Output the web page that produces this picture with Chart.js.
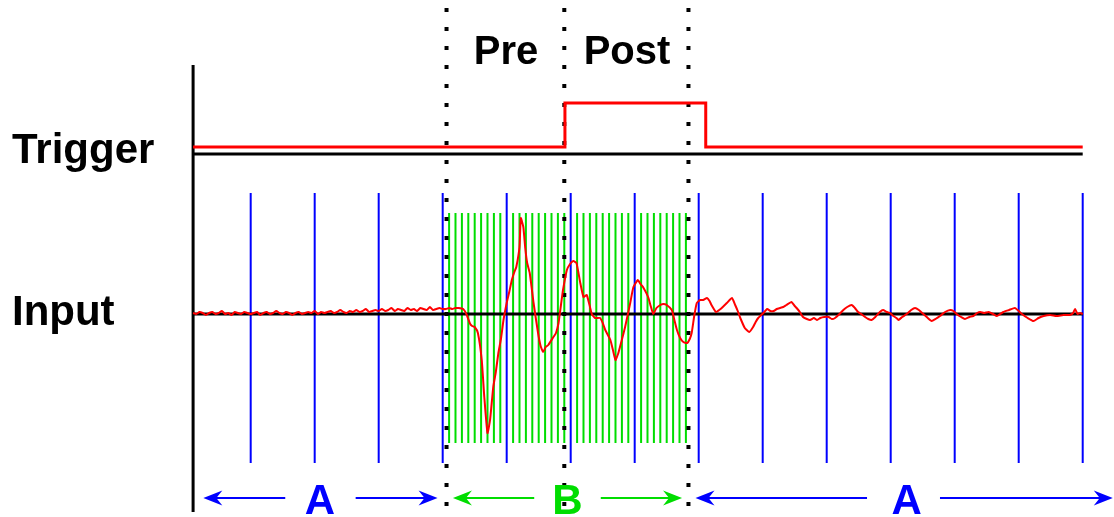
<!DOCTYPE html>
<html>
<head>
<meta charset="utf-8">
<script src="https://cdn.jsdelivr.net/npm/chart.js@4.4.0/dist/chart.umd.min.js"></script>
<style>
  html, body { margin: 0; padding: 0; background: #ffffff; }
  #wrap { width: 1114px; height: 517px; }
</style>
</head>
<body>
<div id="wrap"><canvas id="c" width="1114" height="517"></canvas></div>
<script>
// ---- Data (time in sample units: blue = every 10, green = every 1) ----
const blueTimes = [10, 20, 30, 40, 50, 60, 70, 80, 90, 100, 110, 120, 130, 140];
const greenTimes = [41,42,43,44,45,46,47,48,49, 51,52,53,54,55,56,57,58,59, 61,62,63,64,65,66,67,68,69, 71,72,73,74,75,76,77,78];
const dottedTimes = [40.6, 59.0, 78.4];

const traceStart = 1, traceEnd = 140;
const triggerLow = 1.67, triggerHigh = 2.11, triggerBase = 1.60;
const triggerOn = 59.1, triggerOff = 81.1;

// flat, noisy pre-event input (t = 1 .. 40, step 0.5)
const flatNoise = [0.01,0.00,0.02,0.01,-0.01,0.01,0.02,0.00,0.01,0.03,0.00,0.01,-0.01,0.02,0.01,0.00,0.02,0.01,0.00,0.01,
  0.02,-0.01,0.01,0.02,0.00,0.01,0.03,0.01,0.00,0.02,0.01,-0.01,0.01,0.02,0.00,0.01,0.02,0.01,0.03,0.00,
  0.02,0.01,0.02,0.03,0.01,0.02,0.04,0.02,0.01,0.03,0.02,0.04,0.02,0.03,0.05,0.02,0.03,0.04,0.03,0.05,
  0.03,0.04,0.06,0.03,0.05,0.04,0.03,0.06,0.04,0.05,0.03,0.06,0.05,0.04,0.07,0.04,0.05,0.06,0.05];

// event + ringing
const waveT = [40.5,41,41.5,42,42.5,43.2,43.7,44.3,44.6,45.0,45.5,46.1,46.5,47.0,47.4,47.9,48.3,48.7,49.1,49.5,
  50.0,50.4,50.8,51.2,51.5,52.0,52.2,52.6,52.9,53.2,53.6,54.2,54.9,55.3,55.7,56.1,56.5,57.3,57.7,58.1,
  58.5,58.8,59.4,59.9,60.4,60.9,61.5,62.0,62.5,62.9,63.3,63.8,64.6,65.0,65.4,66.2,66.6,67.0,67.4,67.7,
  68.5,69.3,69.8,70.5,70.9,71.3,72.1,72.5,72.9,73.4,74.0,74.5,75.0,75.8,76.2,76.6,77.1,77.6,78.2,78.6,
  78.9,79.3,79.7,80.2,80.7,81.3,81.7,82.0,82.7,83.2,83.6,84.4,85.2,85.7,86.1,86.5,87.2,87.9,88.5,88.9,
  89.3,90.1,90.7,91.2,91.7,92.2,92.7,93.2,93.7,94.5,95.0,95.3,95.8,96.3,96.9,97.4,98.0,98.5,99.0,99.6,
  100.3,100.8,101.3,102.0,102.6,103.2,103.9,104.4,104.9,105.4,106.0,106.5,107.0,107.6,108.3,108.8,109.4,109.9,110.4,110.9,
  111.2,111.8,112.5,113.2,113.8,114.4,115.1,115.8,116.4,117.0,117.7,118.5,119.3,119.8,120.3,121.0,121.6,122.3,122.9,123.5,
  124.0,124.6,125.3,126.0,126.6,127.1,127.6,128.5,129.4,130.0,130.5,131.4,132.3,133.1,133.9,134.9,135.9,137.0,138.0,138.5,
  138.8,139.2,139.6,140];
const waveV = [0.05,0.06,0.05,0.06,0.06,0.05,0.0,-0.10,-0.12,-0.13,-0.19,-0.46,-0.83,-1.19,-1.06,-0.73,-0.58,-0.39,-0.25,-0.06,
  0.11,0.22,0.34,0.42,0.47,0.67,0.96,0.87,0.66,0.51,0.41,0.11,-0.19,-0.32,-0.38,-0.33,-0.31,-0.23,-0.19,-0.09,
  0.10,0.24,0.44,0.50,0.53,0.51,0.31,0.17,0.19,0.10,0.0,-0.04,-0.04,-0.09,-0.16,-0.26,-0.36,-0.46,-0.40,-0.33,
  -0.13,0.11,0.27,0.34,0.30,0.27,0.17,0.08,0.0,0.06,0.09,0.10,0.09,0.04,-0.06,-0.16,-0.24,-0.28,-0.29,-0.25,
  -0.19,-0.02,0.11,0.14,0.14,0.16,0.13,0.09,0.02,0.04,0.06,0.11,0.16,0.09,0.03,-0.04,-0.14,-0.18,-0.13,-0.08,
  -0.04,0.01,0.05,0.03,0.03,0.05,0.06,0.07,0.09,0.12,0.08,0.06,0.02,-0.03,-0.05,-0.06,-0.04,-0.06,-0.04,-0.03,
  -0.03,-0.05,-0.04,0.0,0.04,0.07,0.09,0.06,0.02,0.0,-0.03,-0.05,-0.06,-0.03,0.02,0.04,0.02,0.01,-0.02,-0.04,
  -0.06,-0.03,0.0,0.04,0.06,0.04,0.0,-0.04,-0.07,-0.05,-0.02,0.02,0.04,0.03,0.0,-0.03,-0.05,-0.03,-0.02,0.01,
  0.02,0.01,0.02,0.0,-0.02,0.0,0.02,0.04,0.06,0.03,0.0,-0.04,-0.07,-0.04,-0.02,-0.01,-0.02,-0.01,-0.01,0.01,
  0.05,0.0,0.01,0.0];

// region arrows: [left tip, left shaft end, right shaft start, right tip]
const arrowA1 = [2.6, 15.4, 26.4, 39.2];
const arrowB  = [41.6, 54.3, 64.7, 77.4];
const arrowA2 = [79.5, 106.3, 117.7, 144.7];
const regionLabels = ['A', 'B', 'A'];
const regionLabelT = [20.8, 59.5, 112.5];
const phaseLabels = ['Pre', 'Post'];
const phaseLabelT = [49.9, 68.8];
const sideLabels = ['Trigger', 'Input'];
const sideLabelY = [1.51, -0.11];

// ---- vertical extents ----
const axisTop = 2.49, axisBottom = -1.98;
const blueTop = 1.21, blueBottom = -1.49;
const greenTop = 1.01, greenBottom = -1.29;
const arrowY = -1.84;

const BLUE = '#0000ff', GREEN = '#00dd00', RED = '#ff0000';

function verticals(times, top, bottom) {
  const pts = [];
  times.forEach(t => { pts.push({x: t, y: top}, {x: t, y: bottom}, {x: t, y: null}); });
  return pts;
}

const inputData = flatNoise.map((v, i) => ({x: traceStart + 0.5 * i, y: v}))
  .concat(waveT.map((t, i) => ({x: t, y: waveV[i]})));

const triggerData = [
  {x: traceStart, y: triggerLow}, {x: triggerOn, y: triggerLow}, {x: triggerOn, y: triggerHigh},
  {x: triggerOff, y: triggerHigh}, {x: triggerOff, y: triggerLow}, {x: traceEnd, y: triggerLow}
];

function shafts(a) {
  return [{x: a[0] + 1, y: arrowY}, {x: a[1], y: arrowY}, {x: a[1], y: null},
          {x: a[2], y: arrowY}, {x: a[3] - 1, y: arrowY}];
}

const base = {pointRadius: 0, fill: false, tension: 0, spanGaps: false, borderCapStyle: 'butt'};

const annot = {
  id: 'annot',
  afterDatasetsDraw(chart) {
    const ctx = chart.ctx, xs = chart.scales.x, ys = chart.scales.y;
    ctx.save();
    function head(t, dir, color) {
      const px = xs.getPixelForValue(t), py = ys.getPixelForValue(arrowY);
      ctx.fillStyle = color;
      ctx.beginPath();
      ctx.moveTo(px, py);
      ctx.lineTo(px - dir * 19, py - 7.5);
      ctx.lineTo(px - dir * 13, py);
      ctx.lineTo(px - dir * 19, py + 7.5);
      ctx.closePath();
      ctx.fill();
    }
    [[arrowA1, BLUE], [arrowB, GREEN], [arrowA2, BLUE]].forEach(([a, c]) => {
      head(a[0], -1, c);
      head(a[3], 1, c);
    });
    ctx.textBaseline = 'alphabetic';
    ctx.font = 'bold 42px "Liberation Sans", Arial, sans-serif';
    ctx.textAlign = 'center';
    regionLabels.forEach((l, i) => {
      ctx.fillStyle = l === 'B' ? GREEN : BLUE;
      ctx.fillText(l, xs.getPixelForValue(regionLabelT[i]), ys.getPixelForValue(-2.0));
    });
    ctx.fillStyle = '#000';
    ctx.textAlign = 'left';
    sideLabels.forEach((l, i) => {
      ctx.fillText(l, xs.getPixelForValue(-27.3), ys.getPixelForValue(sideLabelY[i]));
    });
    ctx.font = 'bold 40px "Liberation Sans", Arial, sans-serif';
    ctx.textAlign = 'center';
    phaseLabels.forEach((l, i) => {
      ctx.fillText(l, xs.getPixelForValue(phaseLabelT[i]), ys.getPixelForValue(2.5));
    });
    ctx.restore();
  }
};

new Chart(document.getElementById('c'), {
  type: 'line',
  data: {
    datasets: [
      Object.assign({}, base, {label: 'Input', data: inputData, borderColor: RED, borderWidth: 2, tension: 0.15, order: 0}),
      Object.assign({}, base, {label: 'Trigger', data: triggerData, borderColor: RED, borderWidth: 3, order: 1}),
      Object.assign({}, base, {label: 'dotted', data: verticals(dottedTimes, 3.06, -2.1), borderColor: '#000', borderWidth: 4, borderDash: [4, 15], order: 2}),
      Object.assign({}, base, {label: 'inputBase', data: [{x: traceStart, y: 0}, {x: traceEnd, y: 0}], borderColor: '#000', borderWidth: 3, order: 3}),
      Object.assign({}, base, {label: 'triggerBase', data: [{x: traceStart, y: triggerBase}, {x: traceEnd, y: triggerBase}], borderColor: '#000', borderWidth: 3, order: 3}),
      Object.assign({}, base, {label: 'axis', data: [{x: traceStart, y: axisTop}, {x: traceStart, y: axisBottom}], borderColor: '#000', borderWidth: 3, order: 3}),
      Object.assign({}, base, {label: 'fast', data: verticals(greenTimes, greenTop, greenBottom), borderColor: GREEN, borderWidth: 2, order: 5}),
      Object.assign({}, base, {label: 'slow', data: verticals(blueTimes, blueTop, blueBottom), borderColor: BLUE, borderWidth: 2, order: 4}),
      Object.assign({}, base, {label: 'arrA1', data: shafts(arrowA1), borderColor: BLUE, borderWidth: 2, order: 4}),
      Object.assign({}, base, {label: 'arrB', data: shafts(arrowB), borderColor: GREEN, borderWidth: 2, order: 4}),
      Object.assign({}, base, {label: 'arrA2', data: shafts(arrowA2), borderColor: BLUE, borderWidth: 2, order: 4})
    ]
  },
  options: {
    responsive: false,
    devicePixelRatio: 1,
    animation: false,
    layout: {padding: 0},
    plugins: {legend: {display: false}, tooltip: {enabled: false}},
    scales: {
      x: {type: 'linear', min: -29.17, max: 144.89, display: false},
      y: {type: 'linear', min: -2.03, max: 3.14, display: false}
    },
    elements: {line: {borderJoinStyle: 'miter'}}
  },
  plugins: [annot]
});
</script>
</body>
</html>
